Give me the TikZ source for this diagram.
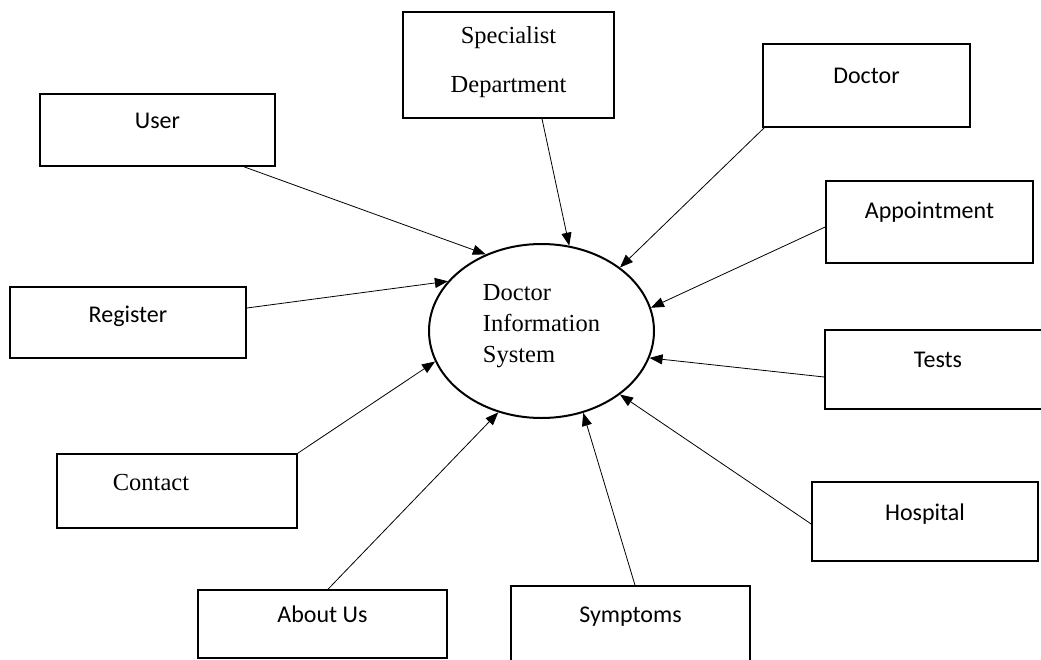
\documentclass[tikz,border=0pt]{standalone}
\usepackage{fontspec}
\setmainfont{Liberation Serif}
\newfontfamily\calibri{Carlito}
\usetikzlibrary{arrows.meta,shapes.geometric}

\begin{document}
\begin{tikzpicture}[x=1pt,y=-1pt]
    \useasboundingbox (0,0) rectangle (1041,659);
    \tikzset{VertexStyle/.style = {draw, line width=1.6pt, inner sep=0pt, font=\calibri\fontsize{24}{29}\selectfont}}
    \tikzset{EdgeStyle/.style = {line width=0.8pt, -{Triangle[length=13pt,width=10pt]}}}

    \node[VertexStyle, ellipse, line width=2pt, minimum width=225pt, minimum height=174pt, align=left, font=\fontsize{24.5}{31}\selectfont] (DIS) at (541.5,331) {Doctor\\Information\\System\rule[-15pt]{0pt}{0pt}};

    \node[VertexStyle, minimum width=235pt, text height=34pt, text depth=38pt] (User) at (157.5,130) {User};
    \node[VertexStyle, minimum width=211pt, minimum height=106pt, align=center, font=\fontsize{24.5}{49}\selectfont] (Spec) at (508.5,65) {Specialist\\Department\rule[-12pt]{0pt}{0pt}};
    \node[VertexStyle, minimum width=207pt, text height=39pt, text depth=44pt] (Doctor) at (866.5,85.5) {Doctor};
    \node[VertexStyle, minimum width=207pt, text height=37pt, text depth=45pt] (Appt) at (929.5,222) {Appointment};
    \node[VertexStyle, minimum width=236pt, text height=35pt, text depth=36pt] (Register) at (128,322.5) {Register};
    \node[VertexStyle, minimum width=226pt, text height=37pt, text depth=42pt] (Tests) at (938,369.5) {Tests};
    \node[VertexStyle, minimum width=240pt, text height=36pt, text depth=38pt, font=\fontsize{24.5}{29}\selectfont] (Contact) at (177,491) {Contact\hspace*{52pt}};
    \node[VertexStyle, minimum width=226pt, text height=38pt, text depth=41pt] (Hospital) at (925,521.5) {Hospital};
    \node[VertexStyle, minimum width=249pt, text height=32pt, text depth=36pt] (About) at (322.5,624) {About Us};
    \node[VertexStyle, minimum width=239pt, text height=36pt, text depth=48pt] (Symptoms) at (630.5,628) {Symptoms};

    \draw[EdgeStyle] ([xshift=86.5pt]User.south) -- (DIS.126.6);
    \draw[EdgeStyle] ([xshift=33.5pt]Spec.south) -- (DIS.72.9);
    \draw[EdgeStyle] ([xshift=2pt]Doctor.south west) -- (DIS.39.2);
    \draw[EdgeStyle] ([yshift=-5pt]Appt.west) -- (DIS.12.5);
    \draw[EdgeStyle] ([yshift=14.5pt]Register.east) -- (DIS.152.6);
    \draw[EdgeStyle] ([yshift=-7.5pt]Tests.west) -- (DIS.-14.2);
    \draw[EdgeStyle] (Contact.north east) -- (DIS.196.5);
    \draw[EdgeStyle] ([yshift=-2.5pt]Hospital.west) -- (DIS.-39.2);
    \draw[EdgeStyle] ([xshift=5.5pt]About.north) -- (DIS.-118.8);
    \draw[EdgeStyle] ([xshift=4.5pt]Symptoms.north) -- (DIS.-63.7);
\end{tikzpicture}
\end{document}
